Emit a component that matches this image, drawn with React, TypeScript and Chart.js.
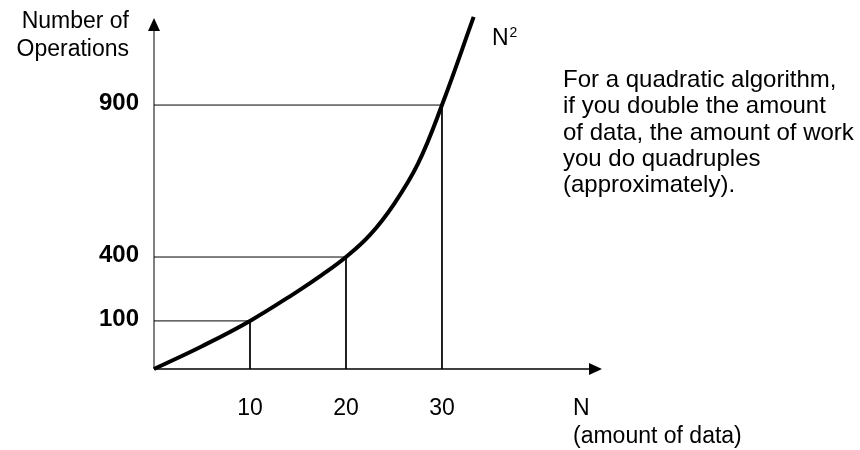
import React, { useEffect, useRef } from "react";
import { Chart, registerables } from "chart.js";

Chart.register(...registerables);

// ---- data (schematic chart: height axis is a 0–100 relative drawing scale) ----
const xTickValues = [10, 20, 30];
const xTickLabels = ["10", "20", "30"];
const yLevelHeights = [13.7, 31.9, 75.2];
const yTickLabels = ["100", "400", "900"];

const curveN = [0, 5, 10, 15, 17.5, 20, 22.5, 25, 27.5, 30, 33.3];
const curveH = [0, 6.5, 13.7, 22.2, 26.8, 31.9, 38.2, 47.0, 58.5, 75.2, 100.3];

const yAxisTitle = ["Number of", "Operations"];
const xAxisTitle = ["N", "(amount of data)"];
const curveLabel = "N";
const curveLabelSup = "2";
const annotationLines = [
  "For a quadratic algorithm,",
  "if you double the amount",
  "of data, the amount of work",
  "you do quadruples",
  "(approximately).",
];

const X_MAX = 46.67;
const Y_MAX = 100;
const FONT = '"Liberation Sans", Arial, Helvetica, sans-serif';

const decorPlugin = {
  id: "decor",
  beforeDatasetsDraw(chart: any) {
    const { ctx, chartArea } = chart;
    const { left, right, top, bottom } = chartArea;
    ctx.save();
    // y axis (gray)
    ctx.strokeStyle = "#808080";
    ctx.lineWidth = 2;
    ctx.beginPath();
    ctx.moveTo(left, bottom);
    ctx.lineTo(left, top + 10);
    ctx.stroke();
    // x axis (black)
    ctx.strokeStyle = "#000";
    ctx.lineWidth = 1.5;
    ctx.beginPath();
    ctx.moveTo(left, bottom);
    ctx.lineTo(right - 10, bottom);
    ctx.stroke();
    // arrowheads
    ctx.fillStyle = "#000";
    ctx.beginPath();
    ctx.moveTo(left, top);
    ctx.lineTo(left - 6, top + 13);
    ctx.lineTo(left + 6, top + 13);
    ctx.closePath();
    ctx.fill();
    ctx.beginPath();
    ctx.moveTo(right, bottom);
    ctx.lineTo(right - 13, bottom - 6);
    ctx.lineTo(right - 13, bottom + 6);
    ctx.closePath();
    ctx.fill();
    ctx.restore();
  },
  afterDraw(chart: any) {
    const { ctx, scales } = chart;
    const xs = scales.x;
    const ys = scales.y;
    ctx.save();
    ctx.fillStyle = "#000";
    // y axis title
    ctx.font = `23px ${FONT}`;
    ctx.textAlign = "right";
    ctx.textBaseline = "alphabetic";
    ctx.fillText(yAxisTitle[0], 129, 28);
    ctx.fillText(yAxisTitle[1], 129, 56);
    // y tick labels
    ctx.font = `bold 24px ${FONT}`;
    ctx.textBaseline = "middle";
    yLevelHeights.forEach((h, i) => {
      ctx.fillText(yTickLabels[i], xs.left - 15, ys.getPixelForValue(h) - 2);
    });
    // x tick labels
    ctx.font = `23px ${FONT}`;
    ctx.textAlign = "center";
    ctx.textBaseline = "alphabetic";
    xTickValues.forEach((v, i) => {
      ctx.fillText(xTickLabels[i], xs.getPixelForValue(v), 415);
    });
    // x axis title
    ctx.textAlign = "left";
    ctx.fillText(xAxisTitle[0], 573, 415);
    ctx.fillText(xAxisTitle[1], 573, 443);
    // curve label N^2
    ctx.fillText(curveLabel, 492, 45);
    const nW = ctx.measureText(curveLabel).width;
    ctx.font = `14px ${FONT}`;
    ctx.fillText(curveLabelSup, 492 + nW + 1, 37);
    // annotation
    ctx.font = `24px ${FONT}`;
    annotationLines.forEach((line, i) => {
      ctx.fillText(line, 563, 87 + i * 26.3);
    });
    ctx.restore();
  },
};

export default function App() {
  const ref = useRef<HTMLCanvasElement | null>(null);
  useEffect(() => {
    document.body.style.margin = "0";
    const canvas = ref.current;
    if (!canvas) return;
    const dropDatasets = xTickValues.map((x, i) => ({
      data: [
        { x: 0, y: yLevelHeights[i] },
        { x, y: yLevelHeights[i] },
        { x, y: 0 },
      ],
      borderColor: "#000",
      borderWidth: 1,
      pointRadius: 0,
      tension: 0,
      fill: false,
      order: 2,
      clip: false as any,
    }));
    const chart = new Chart(canvas, {
      type: "line",
      data: {
        datasets: [
          {
            data: curveN.map((n, i) => ({ x: n, y: curveH[i] })),
            borderColor: "#000",
            borderWidth: 4,
            pointRadius: 0,
            tension: 0.4,
            fill: false,
            order: 1,
            clip: false as any,
            borderCapStyle: "butt",
          } as any,
          ...dropDatasets,
        ],
      },
      options: {
        animation: false,
        responsive: false,
        devicePixelRatio: 1,
        layout: { padding: { left: 154, right: 258, top: 18, bottom: 81 } },
        scales: {
          x: { type: "linear", min: 0, max: X_MAX, display: false },
          y: { type: "linear", min: 0, max: Y_MAX, display: false },
        },
        plugins: {
          legend: { display: false },
          tooltip: { enabled: false },
        },
        events: [],
      },
      plugins: [decorPlugin],
    });
    return () => chart.destroy();
  }, []);
  return (
    <canvas
      ref={ref}
      width={860}
      height={450}
      style={{ display: "block", width: 860, height: 450, background: "#fff" }}
    />
  );
}
